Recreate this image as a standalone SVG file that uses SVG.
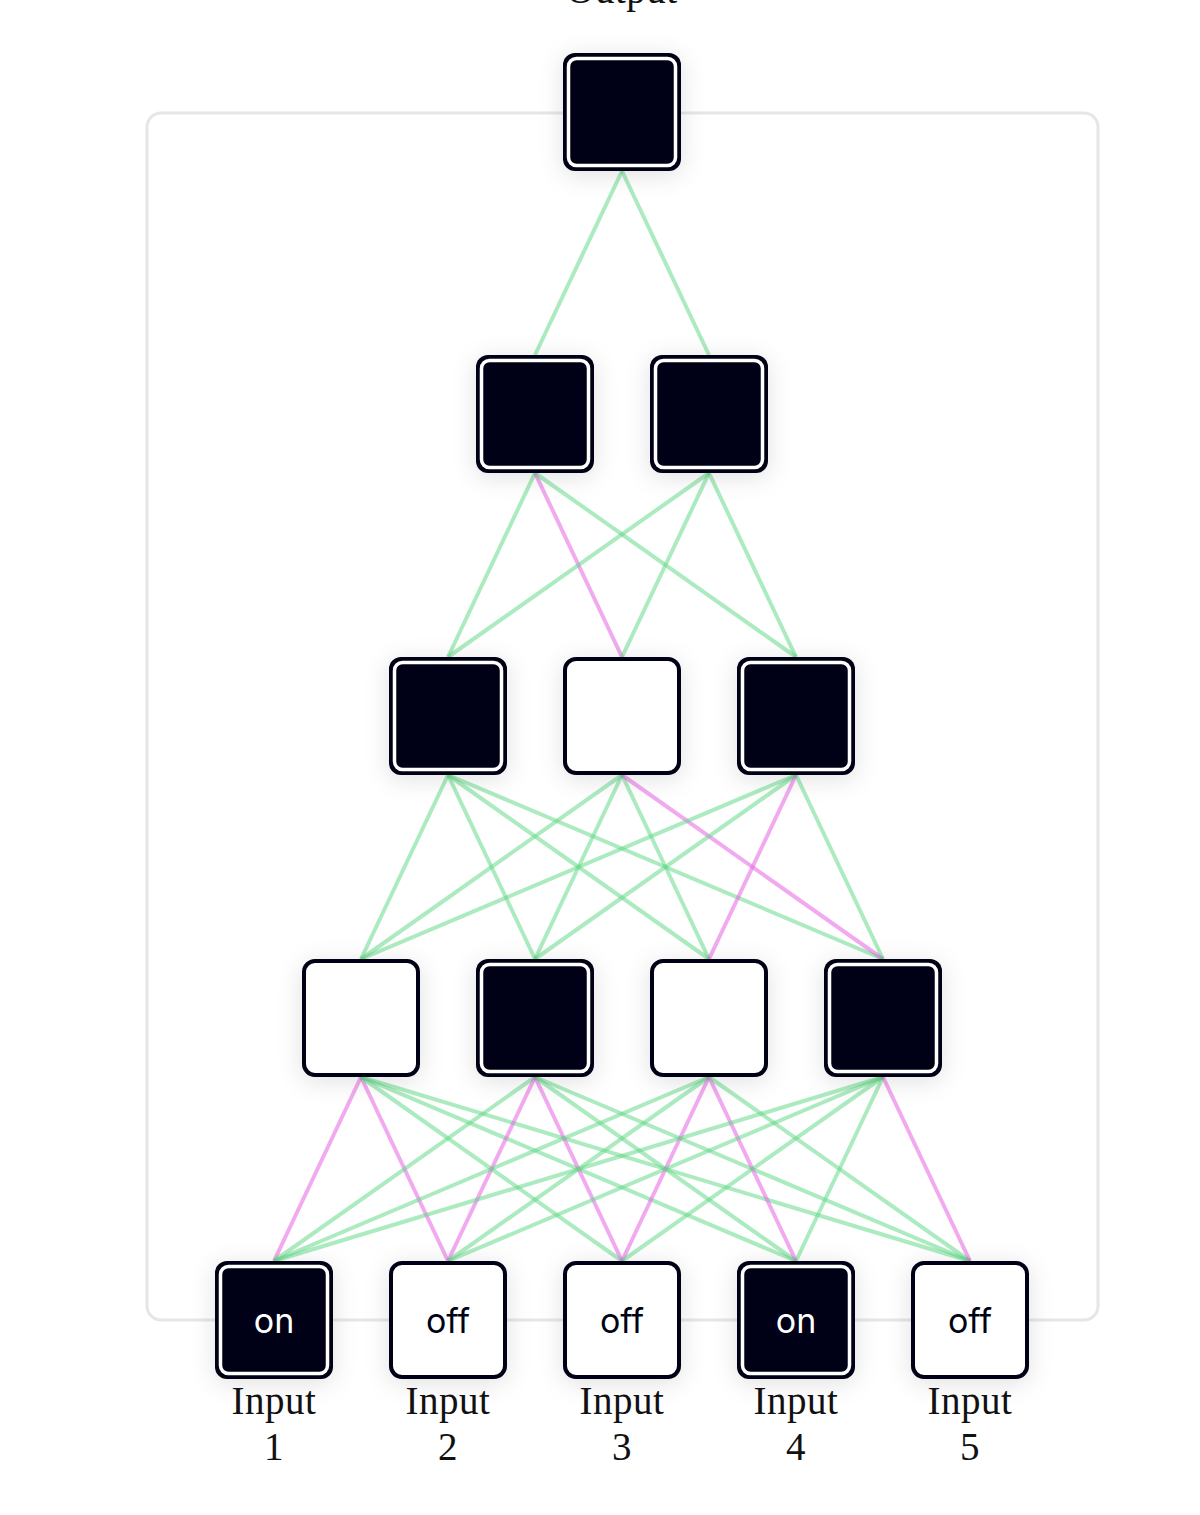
<svg xmlns="http://www.w3.org/2000/svg" width="1200" height="1515" viewBox="0 0 1200 1515">
<style>
.frame{fill:none;stroke:#e6e6e6;stroke-width:3}
.g{stroke:rgb(90,215,130);stroke-opacity:0.5;stroke-width:4;fill:none}
.p{stroke:rgb(230,100,225);stroke-opacity:0.55;stroke-width:4;fill:none}
.on .o{fill:#000314}
.on .i{fill:#000314;stroke:#fff;stroke-width:3.5}
.off .o{fill:#fff;stroke:#000314;stroke-width:4}
.lbl{font-family:"Liberation Serif","DejaVu Serif",serif;font-size:39px;fill:#111;text-anchor:middle;letter-spacing:0.5px}
.st{font-family:Inter,"Open Sans",sans-serif;font-size:34px;text-anchor:middle}
.on .st{fill:#fff}
.off .st{fill:#000314}
</style>
<defs>
<filter id="sh" x="-40%" y="-40%" width="180%" height="180%">
<feDropShadow dx="0" dy="4" stdDeviation="12" flood-color="#000" flood-opacity="0.12"/>
</filter>
</defs>
<rect width="1200" height="1515" fill="#fff"/>
<rect class="frame" x="147" y="113" width="951" height="1207" rx="14"/>
<text class="lbl" x="622" y="3">Output</text>
<g id="connectors">
<line class="g" x1="622" y1="171" x2="535" y2="355"/>
<line class="g" x1="622" y1="171" x2="709" y2="355"/>
<line class="g" x1="535" y1="473" x2="448" y2="657"/>
<line class="p" x1="535" y1="473" x2="622" y2="657"/>
<line class="g" x1="535" y1="473" x2="796" y2="657"/>
<line class="g" x1="709" y1="473" x2="448" y2="657"/>
<line class="g" x1="709" y1="473" x2="622" y2="657"/>
<line class="g" x1="709" y1="473" x2="796" y2="657"/>
<line class="g" x1="448" y1="775" x2="361" y2="959"/>
<line class="g" x1="448" y1="775" x2="535" y2="959"/>
<line class="g" x1="448" y1="775" x2="709" y2="959"/>
<line class="g" x1="448" y1="775" x2="883" y2="959"/>
<line class="g" x1="622" y1="775" x2="361" y2="959"/>
<line class="g" x1="622" y1="775" x2="535" y2="959"/>
<line class="g" x1="622" y1="775" x2="709" y2="959"/>
<line class="p" x1="622" y1="775" x2="883" y2="959"/>
<line class="g" x1="796" y1="775" x2="361" y2="959"/>
<line class="g" x1="796" y1="775" x2="535" y2="959"/>
<line class="p" x1="796" y1="775" x2="709" y2="959"/>
<line class="g" x1="796" y1="775" x2="883" y2="959"/>
<line class="p" x1="361" y1="1077" x2="274" y2="1261"/>
<line class="p" x1="361" y1="1077" x2="448" y2="1261"/>
<line class="g" x1="361" y1="1077" x2="622" y2="1261"/>
<line class="g" x1="361" y1="1077" x2="796" y2="1261"/>
<line class="g" x1="361" y1="1077" x2="970" y2="1261"/>
<line class="g" x1="535" y1="1077" x2="274" y2="1261"/>
<line class="p" x1="535" y1="1077" x2="448" y2="1261"/>
<line class="p" x1="535" y1="1077" x2="622" y2="1261"/>
<line class="g" x1="535" y1="1077" x2="796" y2="1261"/>
<line class="g" x1="535" y1="1077" x2="970" y2="1261"/>
<line class="g" x1="709" y1="1077" x2="274" y2="1261"/>
<line class="g" x1="709" y1="1077" x2="448" y2="1261"/>
<line class="p" x1="709" y1="1077" x2="622" y2="1261"/>
<line class="p" x1="709" y1="1077" x2="796" y2="1261"/>
<line class="g" x1="709" y1="1077" x2="970" y2="1261"/>
<line class="g" x1="883" y1="1077" x2="274" y2="1261"/>
<line class="g" x1="883" y1="1077" x2="448" y2="1261"/>
<line class="g" x1="883" y1="1077" x2="622" y2="1261"/>
<line class="g" x1="883" y1="1077" x2="796" y2="1261"/>
<line class="p" x1="883" y1="1077" x2="970" y2="1261"/>
</g>
<g id="out" class="on" filter="url(#sh)"><rect class="o" x="563" y="53" width="118" height="118" rx="12"/><rect class="i" x="568.5" y="58.5" width="107" height="107" rx="8"/></g>
<g id="h2a" class="on" filter="url(#sh)"><rect class="o" x="476" y="355" width="118" height="118" rx="12"/><rect class="i" x="481.5" y="360.5" width="107" height="107" rx="8"/></g>
<g id="h2b" class="on" filter="url(#sh)"><rect class="o" x="650" y="355" width="118" height="118" rx="12"/><rect class="i" x="655.5" y="360.5" width="107" height="107" rx="8"/></g>
<g id="h3a" class="on" filter="url(#sh)"><rect class="o" x="389" y="657" width="118" height="118" rx="12"/><rect class="i" x="394.5" y="662.5" width="107" height="107" rx="8"/></g>
<g id="h3b" class="off" filter="url(#sh)"><rect class="o" x="565" y="659" width="114" height="114" rx="11"/></g>
<g id="h3c" class="on" filter="url(#sh)"><rect class="o" x="737" y="657" width="118" height="118" rx="12"/><rect class="i" x="742.5" y="662.5" width="107" height="107" rx="8"/></g>
<g id="h4a" class="off" filter="url(#sh)"><rect class="o" x="304" y="961" width="114" height="114" rx="11"/></g>
<g id="h4b" class="on" filter="url(#sh)"><rect class="o" x="476" y="959" width="118" height="118" rx="12"/><rect class="i" x="481.5" y="964.5" width="107" height="107" rx="8"/></g>
<g id="h4c" class="off" filter="url(#sh)"><rect class="o" x="652" y="961" width="114" height="114" rx="11"/></g>
<g id="h4d" class="on" filter="url(#sh)"><rect class="o" x="824" y="959" width="118" height="118" rx="12"/><rect class="i" x="829.5" y="964.5" width="107" height="107" rx="8"/></g>
<g id="in1" class="on"><g filter="url(#sh)"><rect class="o" x="215" y="1261" width="118" height="118" rx="12"/><rect class="i" x="220.5" y="1266.5" width="107" height="107" rx="8"/></g><text class="st" x="274" y="1333">on</text><text class="lbl" x="274" y="1414">Input</text><text class="lbl" x="274" y="1460">1</text></g>
<g id="in2" class="off"><g filter="url(#sh)"><rect class="o" x="391" y="1263" width="114" height="114" rx="11"/></g><text class="st" x="448" y="1333">off</text><text class="lbl" x="448" y="1414">Input</text><text class="lbl" x="448" y="1460">2</text></g>
<g id="in3" class="off"><g filter="url(#sh)"><rect class="o" x="565" y="1263" width="114" height="114" rx="11"/></g><text class="st" x="622" y="1333">off</text><text class="lbl" x="622" y="1414">Input</text><text class="lbl" x="622" y="1460">3</text></g>
<g id="in4" class="on"><g filter="url(#sh)"><rect class="o" x="737" y="1261" width="118" height="118" rx="12"/><rect class="i" x="742.5" y="1266.5" width="107" height="107" rx="8"/></g><text class="st" x="796" y="1333">on</text><text class="lbl" x="796" y="1414">Input</text><text class="lbl" x="796" y="1460">4</text></g>
<g id="in5" class="off"><g filter="url(#sh)"><rect class="o" x="913" y="1263" width="114" height="114" rx="11"/></g><text class="st" x="970" y="1333">off</text><text class="lbl" x="970" y="1414">Input</text><text class="lbl" x="970" y="1460">5</text></g>
</svg>
